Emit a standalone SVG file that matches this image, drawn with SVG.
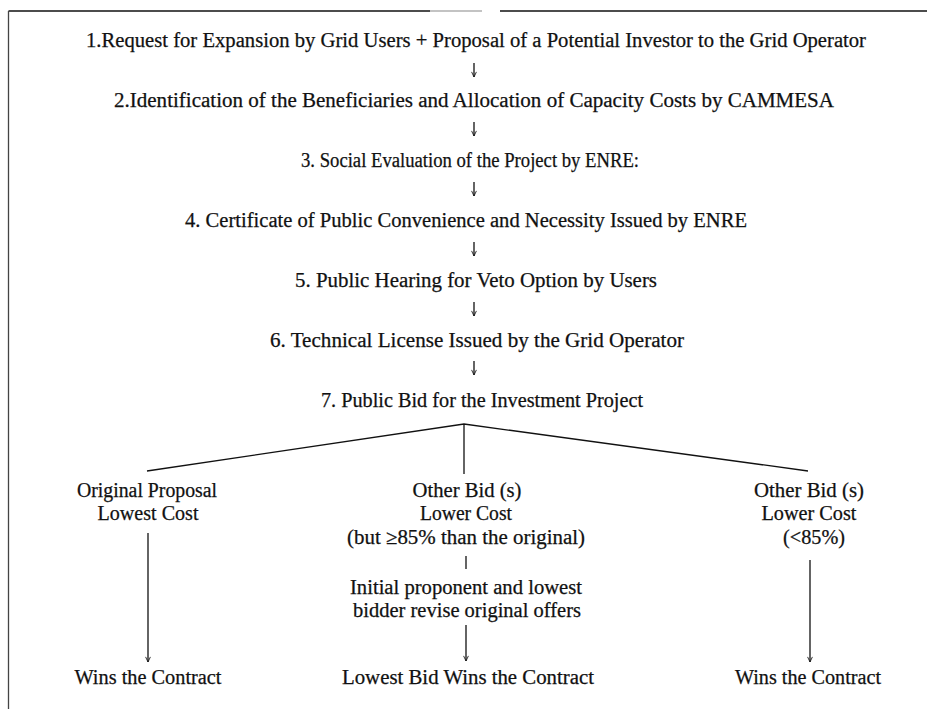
<svg xmlns="http://www.w3.org/2000/svg" width="927" height="709" viewBox="0 0 927 709">
<style>
text{font-family:"Liberation Serif","Times New Roman",serif;font-size:20px;fill:#111;stroke:#111;stroke-width:0.25;text-anchor:middle}
.ln{stroke:#111;stroke-width:1.3;fill:none}
</style>
<defs>
<marker id="ah" viewBox="0 0 10 10" refX="9.5" refY="5" markerWidth="6" markerHeight="6" orient="auto" markerUnits="userSpaceOnUse">
<path d="M1,1 L9.5,5 L1,9" stroke="#111" stroke-width="1.4" fill="none"/>
</marker>
</defs>
<rect width="927" height="709" fill="#fff"/>
<g id="frame">
<line class="ln" x1="8.5" y1="11" x2="430" y2="11" stroke-width="1.8"/>
<line x1="430" y1="11" x2="482" y2="11" stroke="#888" stroke-width="1.2"/>
<line class="ln" x1="500" y1="11" x2="927" y2="11" stroke-width="1.8"/>
<line x1="8.5" y1="11" x2="8.5" y2="709" stroke="#444" stroke-width="1.3"/>
</g>
<g id="connectors">
<line class="ln" x1="474" y1="63" x2="474" y2="77" marker-end="url(#ah)"/>
<line class="ln" x1="474" y1="122" x2="474" y2="136" marker-end="url(#ah)"/>
<line class="ln" x1="474" y1="182" x2="474" y2="196" marker-end="url(#ah)"/>
<line class="ln" x1="474" y1="242" x2="474" y2="256" marker-end="url(#ah)"/>
<line class="ln" x1="474" y1="302" x2="474" y2="316" marker-end="url(#ah)"/>
<line class="ln" x1="474" y1="361" x2="474" y2="375" marker-end="url(#ah)"/>
<polyline class="ln" points="147,471 464,424 808,471"/>
<line class="ln" x1="464" y1="424" x2="464" y2="474"/>
<line class="ln" x1="148" y1="533" x2="148" y2="662" marker-end="url(#ah)"/>
<line class="ln" x1="466" y1="556" x2="466" y2="569"/>
<line class="ln" x1="466" y1="625" x2="466" y2="661" marker-end="url(#ah)"/>
<line class="ln" x1="810" y1="560" x2="810" y2="662" marker-end="url(#ah)"/>
</g>
<g id="n1"><text x="476" y="47" textLength="780" lengthAdjust="spacingAndGlyphs">1.Request for Expansion by Grid Users + Proposal of a Potential Investor to the Grid Operator</text></g>
<g id="n2"><text x="474" y="107" textLength="720" lengthAdjust="spacingAndGlyphs">2.Identification of the Beneficiaries and Allocation of Capacity Costs by CAMMESA</text></g>
<g id="n3"><text x="470" y="167" textLength="338" lengthAdjust="spacingAndGlyphs">3. Social Evaluation of the Project by ENRE:</text></g>
<g id="n4"><text x="466" y="227" textLength="562" lengthAdjust="spacingAndGlyphs">4. Certificate of Public Convenience and Necessity Issued by ENRE</text></g>
<g id="n5"><text x="476" y="287" textLength="362" lengthAdjust="spacingAndGlyphs">5. Public Hearing for Veto Option by Users</text></g>
<g id="n6"><text x="477" y="347" textLength="414" lengthAdjust="spacingAndGlyphs">6. Technical License Issued by the Grid Operator</text></g>
<g id="n7"><text x="482" y="407" textLength="322" lengthAdjust="spacingAndGlyphs">7. Public Bid  for the Investment Project</text></g>
<g id="b1">
<text x="147" y="497" textLength="140" lengthAdjust="spacingAndGlyphs">Original Proposal</text>
<text x="148" y="520" textLength="101" lengthAdjust="spacingAndGlyphs">Lowest Cost</text>
</g>
<g id="b2">
<text x="467" y="497" textLength="109" lengthAdjust="spacingAndGlyphs">Other Bid (s)</text>
<text x="466" y="520" textLength="92" lengthAdjust="spacingAndGlyphs">Lower Cost</text>
<text x="466" y="544" textLength="238" lengthAdjust="spacingAndGlyphs">(but ≥85% than the original)</text>
</g>
<g id="b3">
<text x="809" y="497" textLength="110" lengthAdjust="spacingAndGlyphs">Other Bid (s)</text>
<text x="809" y="520" textLength="95" lengthAdjust="spacingAndGlyphs">Lower Cost</text>
<text x="814" y="544" textLength="62" lengthAdjust="spacingAndGlyphs">(&lt;85%)</text>
</g>
<g id="m1">
<text x="466" y="594" textLength="232" lengthAdjust="spacingAndGlyphs">Initial proponent and lowest</text>
<text x="467" y="617" textLength="228" lengthAdjust="spacingAndGlyphs">bidder revise original offers</text>
</g>
<g id="r1"><text x="148" y="684" textLength="147" lengthAdjust="spacingAndGlyphs">Wins the Contract</text></g>
<g id="r2"><text x="468" y="684" textLength="252" lengthAdjust="spacingAndGlyphs">Lowest Bid Wins the Contract</text></g>
<g id="r3"><text x="808" y="684" textLength="146" lengthAdjust="spacingAndGlyphs">Wins the Contract</text></g>
</svg>
